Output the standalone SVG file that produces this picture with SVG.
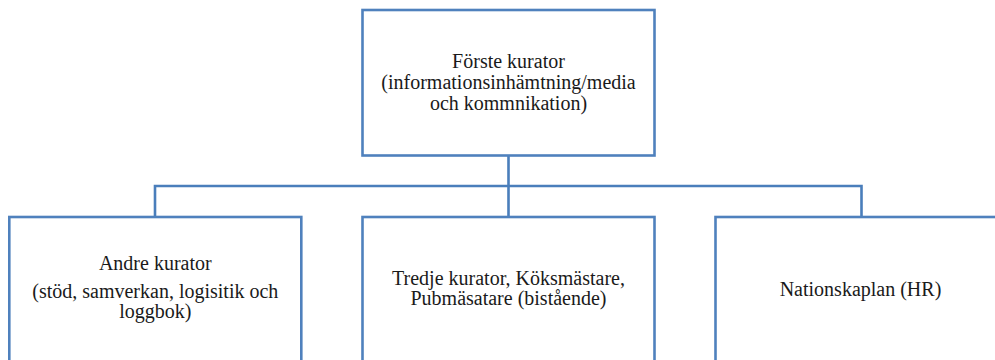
<svg xmlns="http://www.w3.org/2000/svg" width="995" height="360" viewBox="0 0 995 360">
<style>
.box{fill:#ffffff;stroke:#4F81BD;stroke-width:2.6}
.conn{fill:none;stroke:#4A7EBB;stroke-width:2.6}
.t{font-size:20px;fill:#1a1a1a;text-anchor:middle}
</style>
<rect width="995" height="360" fill="#ffffff"/>
<g id="connectors">
<path class="conn" d="M508.5,155.5 V217 M155,217 V186 H861.5 V217"/>
</g>
<g font-family="'Liberation Serif', 'DejaVu Serif', serif">
<g id="node-forste">
<rect class="box" x="362.5" y="10" width="292" height="145.5"/>
<text class="t" x="508.5" y="68">Förste kurator</text>
<text class="t" x="508.5" y="89">(informationsinhämtning/media</text>
<text class="t" x="508.5" y="110">och kommnikation)</text>
</g>
<g id="node-andre">
<rect class="box" x="9.3" y="217" width="292" height="160"/>
<text class="t" x="155.3" y="270">Andre kurator</text>
<text class="t" x="155.3" y="298">(stöd, samverkan, logisitik och</text>
<text class="t" x="155.3" y="318">loggbok)</text>
</g>
<g id="node-tredje">
<rect class="box" x="362.5" y="217" width="292" height="160"/>
<text class="t" x="508.5" y="285">Tredje kurator, Köksmästare,</text>
<text class="t" x="508.5" y="305">Pubmäsatare (bistående)</text>
</g>
<g id="node-nationskaplan">
<rect class="box" x="715.5" y="217" width="292" height="160"/>
<text class="t" x="860.5" y="296">Nationskaplan (HR)</text>
</g>
</g>
</svg>
